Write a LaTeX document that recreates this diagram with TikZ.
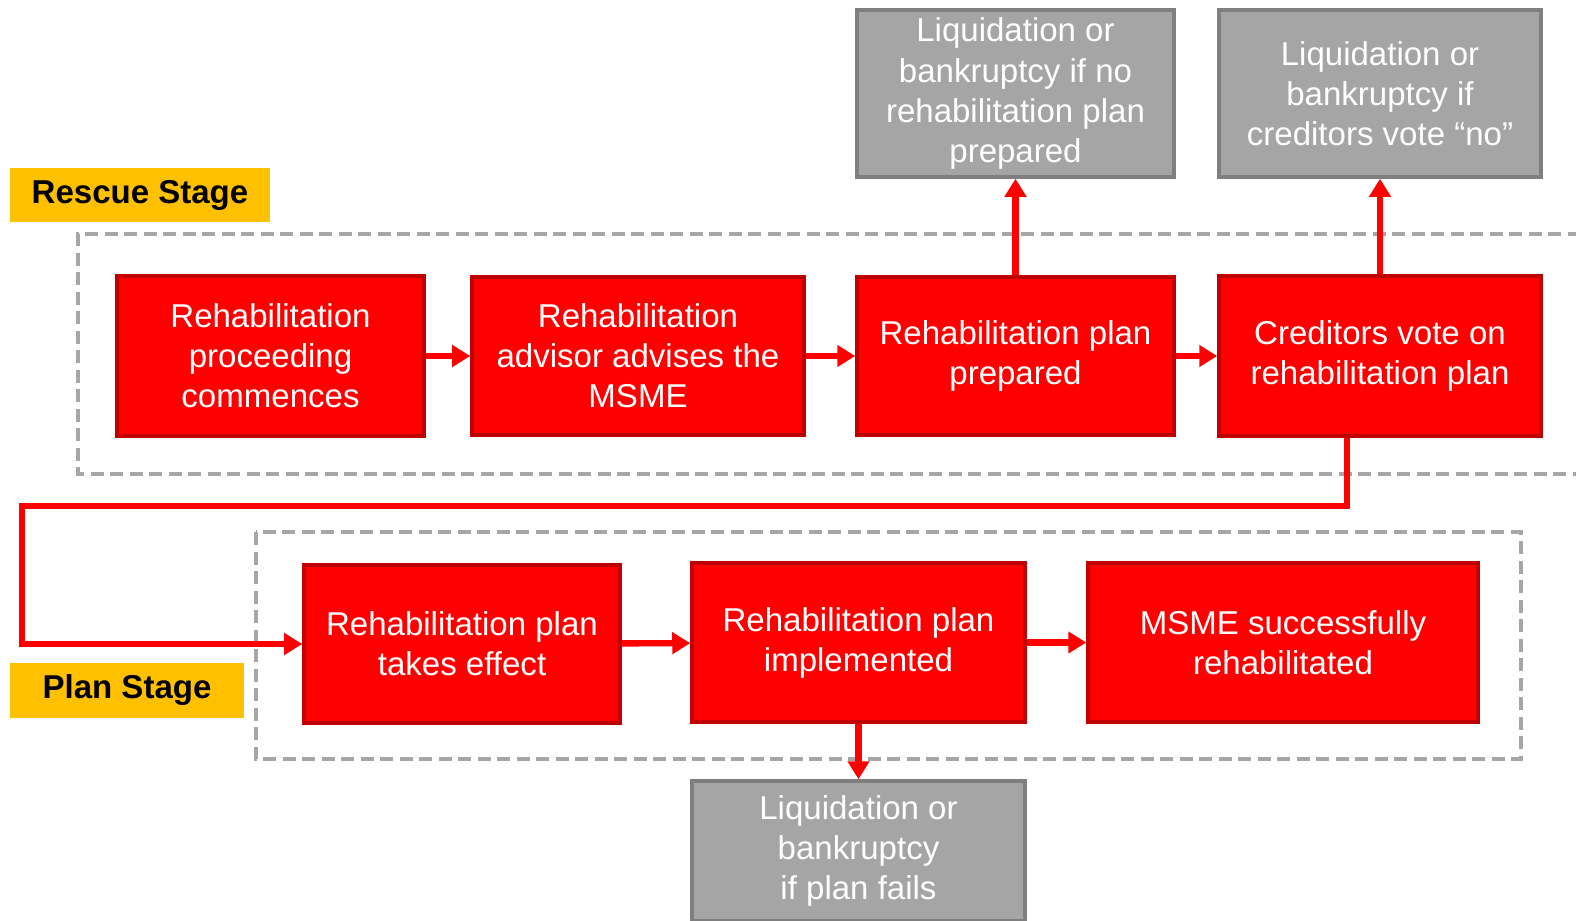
\documentclass[tikz,border=0pt]{standalone}
\usepackage{fontspec}
\setmainfont{Liberation Sans}
\usetikzlibrary{arrows.meta}
\definecolor{boxred}{HTML}{FF0000}
\definecolor{edgered}{HTML}{C00000}
\definecolor{boxgrey}{HTML}{A5A5A6}
\definecolor{edgegrey}{HTML}{7F7F7F}
\definecolor{stagebg}{HTML}{FFC000}
\definecolor{dashgrey}{HTML}{A6A6A6}

\begin{document}
\begin{tikzpicture}[>={Triangle[length=0.18cm, width=0.21cm]},
  font=\fontsize{9.4}{11.4}\selectfont,
  redbox/.style={draw=edgered, fill=boxred, line width=1pt, text=white, align=center, inner sep=0pt},
  greybox/.style={draw=edgegrey, fill=boxgrey, line width=1pt, text=white, align=center, inner sep=0pt},
  stagelabel/.style={fill=stagebg, font=\fontsize{9.4}{11.4}\selectfont\bfseries, inner sep=0pt},
  stageframe/.style={draw=dashgrey, line width=1.1pt, dash pattern=on 0.13cm off 0.065cm},
  flow/.style={->, draw=boxred, line width=1.8pt}]
  \clip (0,0) rectangle (15.76,9.2);
  % stage frames
  \draw[stageframe] (16,6.86) -- (0.78,6.86) -- (0.78,4.46) -- (16,4.46);
  \draw[stageframe] (2.56,3.88) rectangle (15.21,1.61);
  \node[stagelabel, minimum width=2.60cm, minimum height=0.54cm] (rescue) at (1.40,7.25) {Rescue Stage};
  \node[stagelabel, minimum width=2.34cm, minimum height=0.55cm] (plan) at (1.27,2.295) {Plan Stage};
  % rescue stage
  \node[redbox, minimum width=3.07cm, minimum height=1.60cm] (rproc) at (2.705,5.64) {Rehabilitation\\proceeding\\commences};
  \node[redbox, minimum width=3.32cm, minimum height=1.58cm] (radv) at (6.38,5.64) {Rehabilitation\\advisor advises the\\MSME};
  \node[redbox, minimum width=3.17cm, minimum height=1.58cm] (rprep) at (10.155,5.64) {Rehabilitation plan\\prepared};
  \node[redbox, minimum width=3.22cm, minimum height=1.60cm] (rvote) at (13.80,5.64) {Creditors vote on\\rehabilitation plan};
  \node[greybox, minimum width=3.17cm, minimum height=1.67cm] (liqprep) at (10.155,8.265) {Liquidation or\\bankruptcy if no\\rehabilitation plan\\prepared};
  \node[greybox, minimum width=3.22cm, minimum height=1.67cm] (liqvote) at (13.80,8.265) {Liquidation or\\bankruptcy if\\creditors vote “no”};
  % plan stage
  \node[redbox, minimum width=3.16cm, minimum height=1.58cm] (peffect) at (4.62,2.76) {Rehabilitation plan\\takes effect};
  \node[redbox, minimum width=3.33cm, minimum height=1.59cm] (pimpl) at (8.585,2.775) {Rehabilitation plan\\implemented};
  \node[redbox, minimum width=3.90cm, minimum height=1.59cm] (pdone) at (12.83,2.775) {MSME successfully\\rehabilitated};
  \node[greybox, minimum width=3.33cm, minimum height=1.40cm] (liqfail) at (8.585,0.69) {Liquidation or\\bankruptcy\\if plan fails};
  % connectors
  \draw[flow] (rproc) -- (radv);
  \draw[flow] (radv) -- (rprep);
  \draw[flow] (rprep) -- (rvote);
  \draw[flow] (rprep) -- (liqprep);
  \draw[flow] (rvote) -- (liqvote);
  \coordinate (loop) at (0.22,4.14);
  \draw[flow] ([xshift=-3.3mm]rvote.south) |- (loop) |- (peffect.west);
  \draw[flow] (peffect) -- (pimpl);
  \draw[flow] (pimpl) -- (pdone);
  \draw[flow] (pimpl) -- (liqfail);
\end{tikzpicture}
\end{document}
